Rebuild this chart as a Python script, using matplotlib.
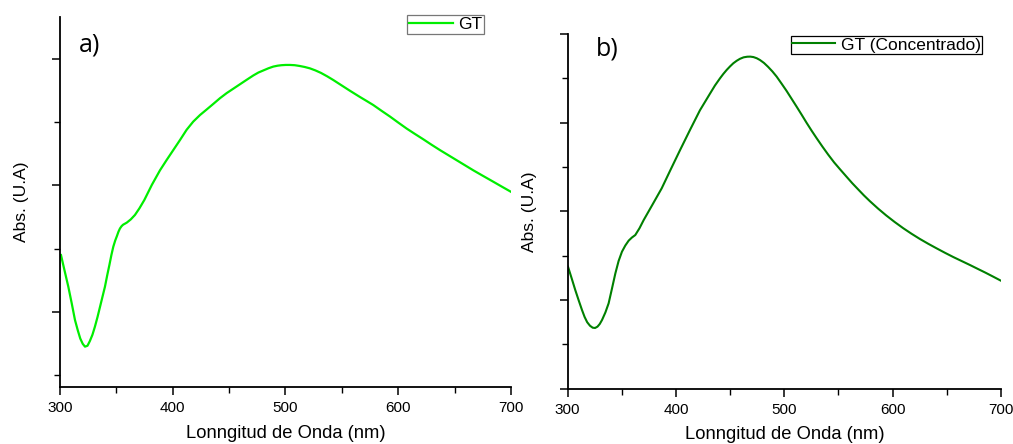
import matplotlib
matplotlib.use("Agg")
import matplotlib.pyplot as plt
from matplotlib.ticker import MultipleLocator, NullFormatter, FixedLocator

# Panel a) - GT spectrum (wavelength in nm, absorbance in arbitrary units)
wl_a = [300.9, 304.0, 307.4, 310.5, 313.3, 315.8, 318.0, 320.2, 322.2, 324.4,
        326.5, 328.8, 331.0, 333.3, 335.5, 337.7, 339.9, 341.9, 343.8, 345.6,
        347.3, 349.0, 350.5, 351.9, 353.2, 354.6, 356.0, 357.6, 359.2, 362.8,
        366.5, 370.5, 374.8, 381.5, 388.7, 394.5, 400.5, 406.5, 412.3, 418.2,
        424.2, 430.0, 436.0, 441.9, 447.8, 453.7, 459.6, 465.5, 471.5, 476.0,
        480.5, 485.0, 489.2, 493.0, 496.5, 500.2, 504.0, 508.2, 512.5, 517.0,
        521.7, 526.5, 531.5, 537.0, 542.4, 548.3, 557.0, 566.0, 572.0, 577.9,
        585.3, 592.7, 600.1, 607.5, 614.9, 622.3, 629.6, 637.0, 644.4, 651.8,
        659.2, 666.6, 675.0, 683.3, 691.7, 700.0]
abs_a = [1.45, 1.33, 1.20, 1.065, 0.937, 0.855, 0.79, 0.748, 0.726, 0.733,
         0.77, 0.82, 0.884, 0.96, 1.04, 1.12, 1.20, 1.29, 1.37, 1.45,
         1.516, 1.565, 1.60, 1.635, 1.66, 1.678, 1.69, 1.698, 1.706, 1.732,
         1.767, 1.82, 1.885, 2.005, 2.12, 2.20, 2.28, 2.36, 2.44, 2.505,
         2.557, 2.60, 2.645, 2.69, 2.73, 2.765, 2.80, 2.835, 2.87, 2.893,
         2.91, 2.927, 2.94, 2.947, 2.951, 2.953, 2.953, 2.951, 2.945, 2.937,
         2.926, 2.91, 2.89, 2.863, 2.834, 2.80, 2.75, 2.70, 2.668, 2.636,
         2.59, 2.545, 2.497, 2.45, 2.407, 2.365, 2.322, 2.28, 2.24, 2.20,
         2.16, 2.12, 2.077, 2.035, 1.992, 1.95]

# Panel b) - concentrated GT spectrum
wl_b = [300.3, 303.8, 307.0, 310.2, 313.2, 315.6, 318.0, 320.6, 323.1, 325.3,
        327.5, 329.6, 331.7, 334.8, 337.8, 340.9, 344.0, 347.0, 350.1, 353.2,
        356.3, 359.3, 362.4, 366.3, 370.2, 378.0, 386.8, 395.0, 403.7, 413.0,
        422.1, 431.5, 436.0, 440.6, 443.7, 446.8, 449.9, 452.9, 456.0, 459.0,
        462.4, 465.8, 468.6, 471.5, 474.5, 477.5, 481.2, 485.0, 489.0, 492.9,
        497.5, 502.0, 506.7, 511.4, 516.0, 520.5, 525.2, 529.9, 535.2, 540.5,
        546.0, 551.4, 557.5, 562.7, 568.0, 573.5, 579.0, 586.5, 594.0, 601.9,
        609.8, 617.4, 625.0, 632.8, 640.6, 648.3, 656.0, 663.7, 671.4, 678.5,
        685.5, 692.8, 700.0]
abs_b = [1.376, 1.24, 1.113, 0.995, 0.888, 0.81, 0.75, 0.71, 0.688, 0.685,
         0.70, 0.73, 0.775, 0.86, 0.963, 1.13, 1.30, 1.44, 1.545, 1.615,
         1.67, 1.705, 1.733, 1.81, 1.903, 2.07, 2.26, 2.47, 2.69, 2.92,
         3.14, 3.33, 3.42, 3.50, 3.55, 3.595, 3.635, 3.67, 3.698, 3.72,
         3.737, 3.744, 3.745, 3.74, 3.727, 3.707, 3.674, 3.63, 3.578, 3.52,
         3.44, 3.36, 3.27, 3.18, 3.09, 3.00, 2.91, 2.824, 2.73, 2.64,
         2.552, 2.475, 2.39, 2.318, 2.25, 2.18, 2.115, 2.032, 1.955, 1.88,
         1.81, 1.748, 1.69, 1.635, 1.583, 1.533, 1.485, 1.44, 1.395, 1.352,
         1.31, 1.264, 1.218]

x_label = "Lonngitud de Onda (nm)"
y_label = "Abs. (U.A)"
label_a = "GT"
label_b = "GT (Concentrado)"
color_a = "#00ee00"
color_b = "#008000"

plt.rcParams["font.family"] = ["Liberation Sans", "DejaVu Sans"]

fig = plt.figure(figsize=(10.13, 4.44), dpi=100)
fig.patch.set_facecolor("white")

ax_a = fig.add_axes([0.0592, 0.1284, 0.4452, 0.8333])
ax_b = fig.add_axes([0.5604, 0.1245, 0.4277, 0.7989])


def style_axes(ax, ylim, ymajor):
    for side in ("top", "right"):
        ax.spines[side].set_visible(False)
    for side in ("left", "bottom"):
        ax.spines[side].set_linewidth(1.3)
        ax.spines[side].set_color("black")
    ax.set_xlim(300, 700)
    ax.set_ylim(*ylim)
    ax.xaxis.set_major_locator(MultipleLocator(100))
    ax.xaxis.set_minor_locator(MultipleLocator(50))
    ax.yaxis.set_major_locator(FixedLocator(ymajor))
    ax.yaxis.set_minor_locator(MultipleLocator(0.5))
    ax.yaxis.set_major_formatter(NullFormatter())
    ax.tick_params(axis="both", which="major", direction="out", length=6,
                   width=1.1, color="black")
    ax.tick_params(axis="both", which="minor", direction="out", length=4,
                   width=1.0, color="black")
    ax.tick_params(axis="x", labelsize=11, pad=4)
    ax.tick_params(axis="y", labelleft=False)
    ax.set_xlabel(x_label, fontsize=13.2, labelpad=7)
    ax.set_ylabel(y_label, fontsize=12.5, labelpad=15)


style_axes(ax_a, (0.407, 3.332), [1, 2, 3])
style_axes(ax_b, (0.0, 4.0), [0, 1, 2, 3, 4])

ax_a.plot(wl_a, abs_a, color=color_a, lw=1.6, label=label_a,
          solid_joinstyle="round")
ax_b.plot(wl_b, abs_b, color=color_b, lw=1.5, label=label_b,
          solid_joinstyle="round")

ax_a.text(0.042, 0.925, "a)", transform=ax_a.transAxes, fontsize=18,
          family=["Open Sans", "DejaVu Sans"], weight="normal",
          ha="left", va="center")
ax_b.text(0.066, 0.958, "b)", transform=ax_b.transAxes, fontsize=18,
          family=["Open Sans", "DejaVu Sans"], weight="normal",
          ha="left", va="center")

leg_a = ax_a.legend(loc="upper right", bbox_to_anchor=(0.4778, 0.966),
                    bbox_transform=fig.transFigure, fontsize=12.5,
                    handlelength=2.5, handletextpad=0.3, borderpad=0.12,
                    borderaxespad=0, fancybox=False, framealpha=1)
leg_a.get_frame().set_edgecolor("#777777")
leg_a.get_frame().set_linewidth(0.9)

leg_b = ax_b.legend(loc="upper right", bbox_to_anchor=(0.9694, 0.919),
                    bbox_transform=fig.transFigure, fontsize=12.5,
                    handlelength=2.5, handletextpad=0.3, borderpad=0.08,
                    borderaxespad=0, fancybox=False, framealpha=1)
leg_b.get_frame().set_edgecolor("black")
leg_b.get_frame().set_linewidth(0.9)

fig.savefig("out.png", dpi=100)
